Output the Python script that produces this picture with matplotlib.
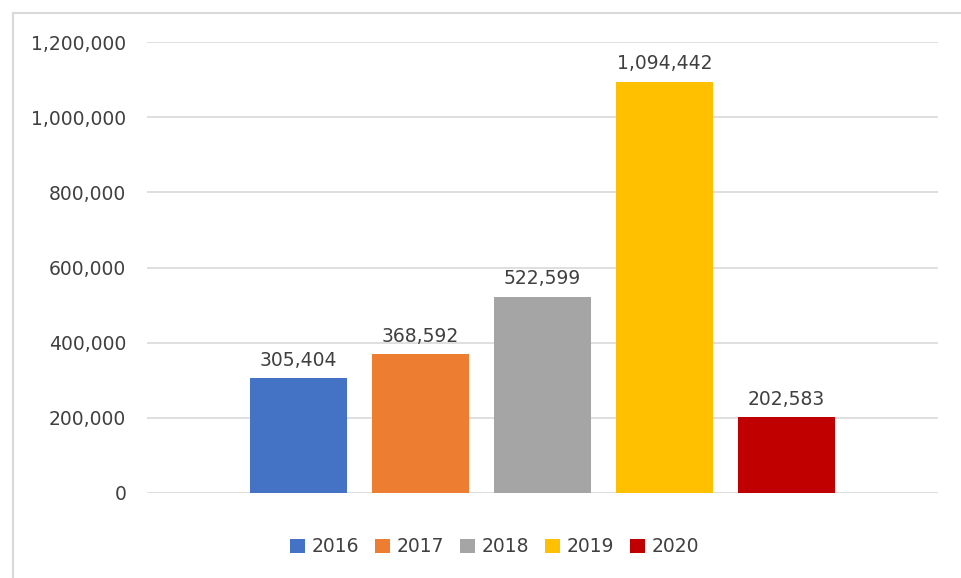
import matplotlib.pyplot as plt
from matplotlib.lines import Line2D
from matplotlib.ticker import FuncFormatter

years = ["2016", "2017", "2018", "2019", "2020"]
values = [305404, 368592, 522599, 1094442, 202583]
colors = ["#4472C4", "#ED7D31", "#A5A5A5", "#FFC000", "#C00000"]

plt.rcParams["font.family"] = ["DejaVu Sans"]
text_color = "#404040"

fig = plt.figure(figsize=(9.62, 5.78), dpi=100)
W, H = 962, 578

# chart frame: only top and left edges are visible in the screenshot
fx, fy = 13 / W, 1 - 13 / H
fig.lines.append(Line2D([fx, 1.0], [fy, fy], transform=fig.transFigure,
                        color="#d9d9d9", lw=1.5))
fig.lines.append(Line2D([fx, fx], [0.0, fy], transform=fig.transFigure,
                        color="#d9d9d9", lw=1.5))

ax = fig.add_axes([147 / W, 1 - 493 / H, (938 - 147) / W, (493 - 42) / H])

x = range(len(years))
bars = ax.bar(x, values, width=0.8, color=colors, label=years, zorder=3)

for b, v in zip(bars, values):
    ax.annotate(f"{v:,}", (b.get_x() + b.get_width() / 2, v),
                xytext=(0, 6), textcoords="offset points",
                ha="center", va="bottom", fontsize=13.5, color=text_color)

ax.set_xlim(-1.242, 5.242)
ax.set_ylim(0, 1200000)
ax.set_yticks(range(0, 1200001, 200000))
ax.yaxis.set_major_formatter(FuncFormatter(lambda v, p: f"{int(v):,}"))
ax.tick_params(axis="y", length=0, pad=15, labelsize=13.5, labelcolor=text_color)
ax.set_xticks([])
ax.grid(axis="y", color="#d9d9d9", lw=1.2, zorder=0)
for s in ax.spines.values():
    s.set_visible(False)

fig.legend(handles=bars, labels=years, loc="center",
           bbox_to_anchor=(495 / W, 1 - 547 / H), ncol=5, frameon=False,
           fontsize=13.5, handlelength=0.8, handleheight=0.8,
           columnspacing=0.85, handletextpad=0.35, labelcolor=text_color)

fig.savefig("out.png", dpi=100)
